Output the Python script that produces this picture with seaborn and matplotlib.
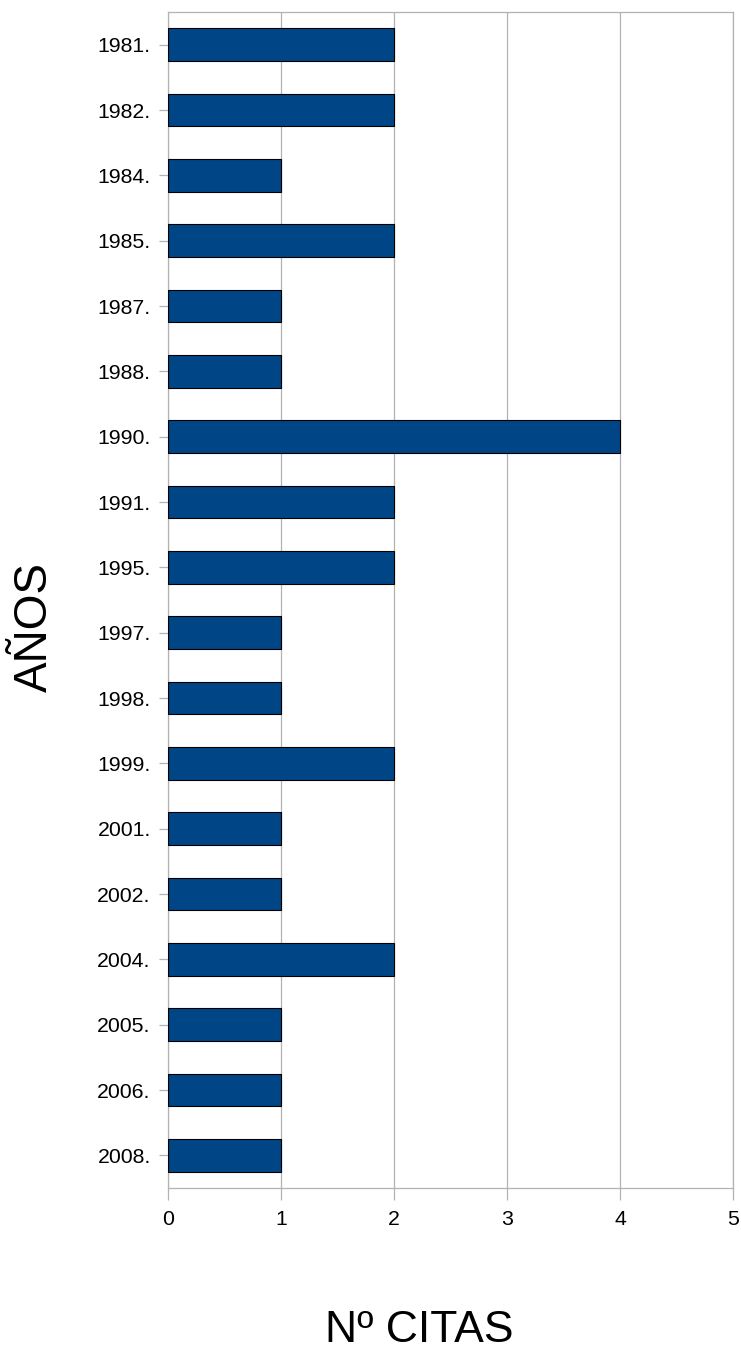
import matplotlib
matplotlib.use("Agg")
import matplotlib.pyplot as plt
import seaborn as sns
import pandas as pd

# Citations per year
years = ["1981.", "1982.", "1984.", "1985.", "1987.", "1988.", "1990.", "1991.",
         "1995.", "1997.", "1998.", "1999.", "2001.", "2002.", "2004.", "2005.",
         "2006.", "2008."]
citas = [2, 2, 1, 2, 1, 1, 4, 2, 2, 1, 1, 2, 1, 1, 2, 1, 1, 1]
x_ticks = [0, 1, 2, 3, 4, 5]

df = pd.DataFrame({"anio": years, "citas": citas})

sns.set_theme(style="white")
plt.rcParams["font.family"] = ["Liberation Sans", "DejaVu Sans"]
plt.rcParams["text.color"] = "black"

fig = plt.figure(figsize=(7.41, 13.53), dpi=100)
ax = fig.add_axes([168 / 741, (1353 - 1188) / 1353, (733 - 168) / 741, (1188 - 12) / 1353])

sns.barplot(data=df, x="citas", y="anio", order=years, orient="h",
            color="#004586", saturation=1, width=0.5,
            edgecolor="black", linewidth=0.8, ax=ax, zorder=3)

grid_c = "#b3b3b3"
ax.set_xlim(0, 5)
ax.set_xticks(x_ticks)
ax.set_xticklabels([str(t) for t in x_ticks])
ax.xaxis.grid(True, color=grid_c, linewidth=0.9, zorder=0)
ax.set_axisbelow(True)
for s in ax.spines.values():
    s.set_visible(True)
    s.set_color(grid_c)
    s.set_linewidth(0.9)

ax.tick_params(axis="both", which="major", width=0.9, color=grid_c,
               labelsize=15.3, labelcolor="black", direction="out",
               bottom=True, left=True)
ax.tick_params(axis="y", length=6.5, pad=6)
ax.tick_params(axis="x", length=8.5, pad=7)

ax.set_xlabel("")
ax.set_ylabel("")
fig.text(419 / 741, 1 - 1331 / 1353, "Nº CITAS", fontsize=32, ha="center", va="center")
fig.text(35 / 741, 1 - 627 / 1353, "AÑOS", fontsize=33, ha="center", va="center",
         rotation=90)

fig.savefig("out.png", dpi=100, facecolor="white")
